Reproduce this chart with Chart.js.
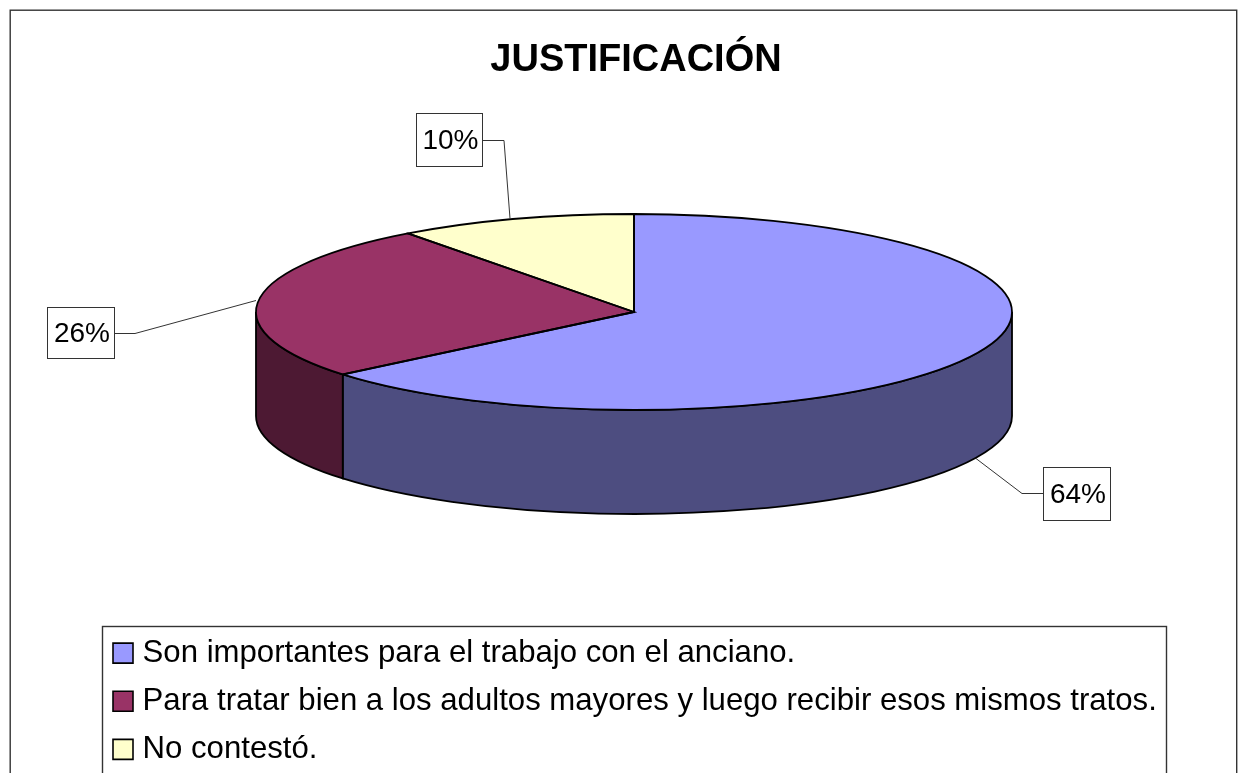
<!DOCTYPE html>
<html><head><meta charset="utf-8">
<style>html,body{margin:0;padding:0;background:#fff;overflow:hidden}canvas{display:block}
#w{position:relative;width:1248px;height:773px}</style>
<script src="https://cdn.jsdelivr.net/npm/chart.js@4"></script>
</head><body><div id="w"><canvas id="c" width="1248" height="773"></canvas></div>
<script>
const categories = ["Son importantes para el trabajo con el anciano.","Para tratar bien a los adultos mayores y luego recibir esos mismos tratos.","No contestó."];
const values = [64, 25.8, 10.2];
const topColors = ["#9999FF","#993366","#FFFFCC"];
const wallColors = ["#4D4D80","#4D1933","#808066"];
const titleText = "JUSTIFICACIÓN";

const CX=634, CY=312, RX=378, RY=98, DEPTH=104;
const labelBoxes = [
  {x:1043,y:467,w:67,h:53,path:[[1043,493],[1022,493],[976,458]]},
  {x:47,y:307,w:67,h:51,path:[[114,333],[135,333],[256,300]]},
  {x:416,y:113,w:66,h:53,path:[[482,140],[504,140],[510,218]]}
];
const legendBox={left:102,top:626,right:1166,bottom:790};

function sweep(a0,a1,fn){
  for(const off of [0,-2*Math.PI,2*Math.PI]){
    const s=Math.max(a0+off,0), e=Math.min(a1+off,Math.PI);
    if(e>s) fn(s,e);
  }
}
const pie3d={
  id:'pie3d',
  beforeDraw(chart){
    const {ctx}=chart;
    ctx.save();
    ctx.fillStyle='#fff';ctx.fillRect(0,0,chart.width,chart.height);
    ctx.strokeStyle='#333';ctx.lineWidth=1.4;
    ctx.strokeRect(10.2,10.2,1226.5,790);
    ctx.strokeRect(legendBox.left+.5,legendBox.top+.5,legendBox.right-legendBox.left,legendBox.bottom-legendBox.top);
    ctx.restore();
  },
  afterLayout(chart){
    const l=chart.legend;
    l.left=102;l.top=620.5;l.right=legendBox.right;l.bottom=legendBox.bottom;
  },
  beforeDatasetDraw(chart,args){
    const {ctx}=chart; const arcs=args.meta.data;
    ctx.save();
    ctx.strokeStyle='#000';ctx.lineWidth=1.8;
    arcs.forEach((arc,i)=>{
      sweep(arc.startAngle,arc.endAngle,(s,e)=>{
        ctx.beginPath();
        ctx.ellipse(CX,CY,RX,RY,0,s,e);
        ctx.ellipse(CX,CY+DEPTH,RX,RY,0,e,s,true);
        ctx.closePath();
        ctx.fillStyle=wallColors[i];ctx.fill();ctx.stroke();
      });
    });
    const a=arcs[0];
    ctx.translate(CX,CY);ctx.scale(1,RY/RX);ctx.scale(RX/a.outerRadius,RX/a.outerRadius);ctx.translate(-a.x,-a.y);
  },
  afterDatasetDraw(chart,args){
    const {ctx}=chart; const arcs=args.meta.data;
    ctx.restore();
    ctx.save();
    ctx.strokeStyle='#000';ctx.lineWidth=1.8;
    arcs.forEach(arc=>{
      ctx.beginPath();
      ctx.moveTo(CX,CY);
      ctx.ellipse(CX,CY,RX,RY,0,arc.startAngle,arc.endAngle);
      ctx.closePath();ctx.stroke();
    });
    // data labels
    ctx.font='28px "Liberation Sans"';ctx.textAlign='center';ctx.textBaseline='middle';
    ctx.lineWidth=1;ctx.strokeStyle='#333';
    const total=values.reduce((p,v)=>p+v,0);
    labelBoxes.forEach((b,i)=>{
      ctx.beginPath();
      b.path.forEach((p,k)=>k?ctx.lineTo(p[0],p[1]+.5):ctx.moveTo(p[0],p[1]+.5));
      ctx.stroke();
      ctx.fillStyle='#fff';ctx.fillRect(b.x,b.y,b.w,b.h);
      ctx.strokeRect(b.x+.5,b.y+.5,b.w,b.h);
      ctx.fillStyle='#000';
      ctx.fillText(Math.round(values[i]/total*100)+'%',b.x+b.w/2+1.5,b.y+b.h/2+2);
    });
    ctx.restore();
  }
};
new Chart(document.getElementById('c'),{
  type:'pie',
  data:{labels:categories,datasets:[{data:values,backgroundColor:topColors,borderWidth:0,clip:false}]},
  plugins:[pie3d],
  options:{
    responsive:false,animation:false,radius:378,
    layout:{padding:{left:24,top:0,right:0,bottom:0}},
    plugins:{
      tooltip:{enabled:false},
      title:{display:true,text:titleText,color:'#000',font:{family:'"Liberation Sans"',size:38,weight:'bold'},padding:{top:38,bottom:10}},
      legend:{display:true,position:'chartArea',align:'start',
        labels:{color:'#000',usePointStyle:true,boxWidth:8,boxHeight:20,padding:17,font:{family:'"Liberation Sans"',size:31.15},
          generateLabels(chart){return categories.map((t,i)=>({text:t,fillStyle:topColors[i],strokeStyle:'#000',lineWidth:1.6,pointStyle:'rect',index:i,hidden:false}));}}}
    }
  }
});
</script></body></html>
